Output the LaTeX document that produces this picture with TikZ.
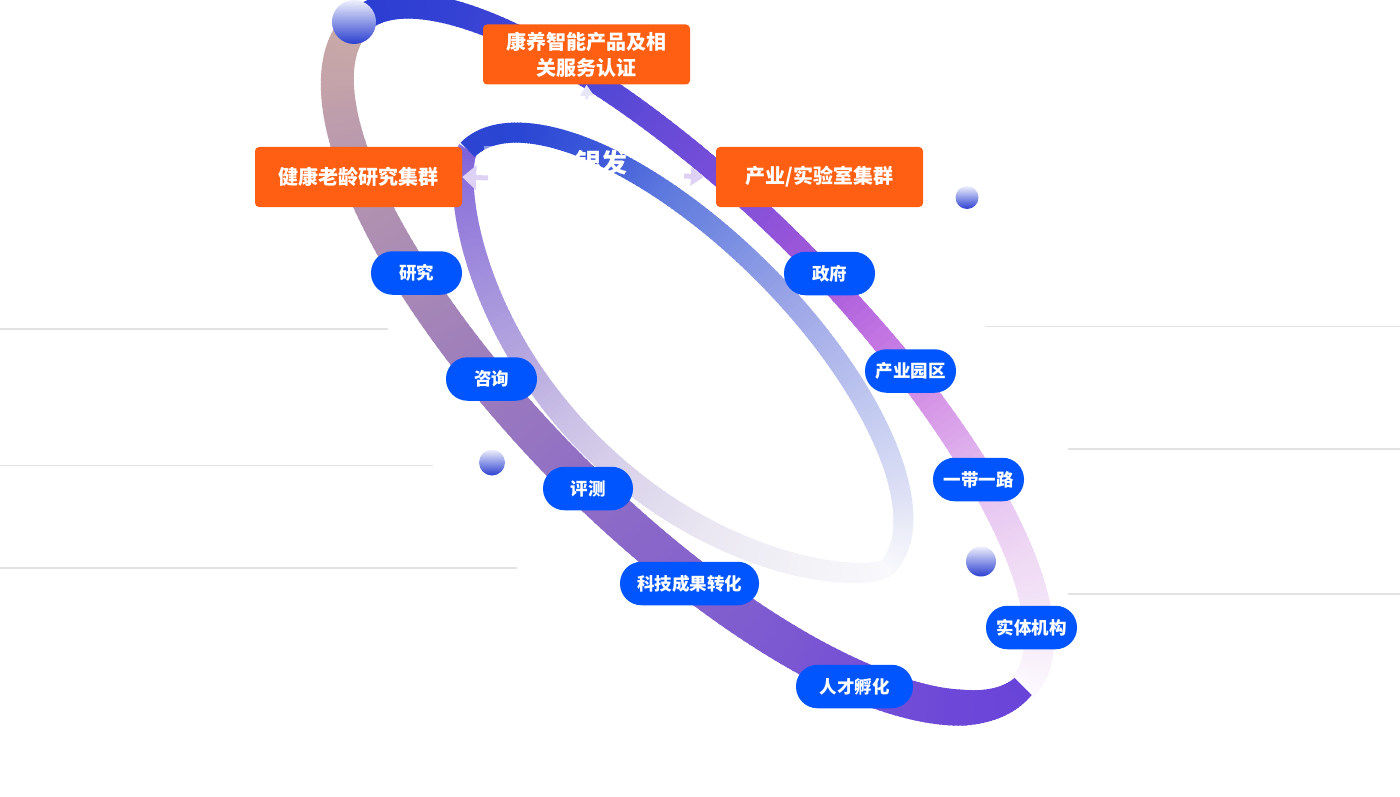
\documentclass[tikz,border=0pt]{standalone}
\usepackage{fontspec}
\newfontfamily\cjk{Noto Sans CJK SC}
\usetikzlibrary{arrows.meta}
% outer ring, upper piece (t = 0 .. 180)
\definecolor{oa0}{HTML}{FDFAFE}
\definecolor{oa1}{HTML}{F7EEFA}
\definecolor{oa2}{HTML}{F0DCF5}
\definecolor{oa3}{HTML}{E6C2F0}
\definecolor{oa4}{HTML}{D493E6}
\definecolor{oa5}{HTML}{C275E2}
\definecolor{oa6}{HTML}{A85ADA}
\definecolor{oa7}{HTML}{7F4FD8}
\definecolor{oa8}{HTML}{5147D6}
\definecolor{oa9}{HTML}{3442D4}
\definecolor{oa10}{HTML}{2A3CD2}
% outer ring, lower piece (t = 180 .. 360)
\definecolor{ob0}{HTML}{CCABA6}
\definecolor{ob1}{HTML}{C4A3AA}
\definecolor{ob2}{HTML}{A98AB4}
\definecolor{ob3}{HTML}{9C7BBE}
\definecolor{ob4}{HTML}{8F6DC6}
\definecolor{ob5}{HTML}{8462CC}
\definecolor{ob6}{HTML}{7550D6}
\definecolor{ob7}{HTML}{6C47D8}
\definecolor{ob8}{HTML}{6944D8}
% inner ring, upper piece
\definecolor{ia0}{HTML}{FAFAFD}
\definecolor{ia1}{HTML}{E8EAF7}
\definecolor{ia2}{HTML}{C2C9F0}
\definecolor{ia3}{HTML}{A0A9E8}
\definecolor{ia4}{HTML}{7C90E2}
\definecolor{ia5}{HTML}{5F7ADE}
\definecolor{ia6}{HTML}{3E5ADA}
\definecolor{ia7}{HTML}{2A46D4}
\definecolor{ia8}{HTML}{2D44D2}
% inner ring, lower piece
\definecolor{ib0}{HTML}{7A5CD8}
\definecolor{ib1}{HTML}{9A84DC}
\definecolor{ib2}{HTML}{B3A4DE}
\definecolor{ib3}{HTML}{C8BDE5}
\definecolor{ib4}{HTML}{DCD5EC}
\definecolor{ib5}{HTML}{EAE7F2}
\definecolor{ib6}{HTML}{F3F2F7}
\definecolor{ib7}{HTML}{FAFAFD}
% others
\definecolor{orangec}{HTML}{FF5F13}
\definecolor{pillblue}{HTML}{0055FE}
\definecolor{linegray}{HTML}{E2E2E2}
\definecolor{sphtop}{HTML}{EEF0FC}
\definecolor{sphbot}{HTML}{2B3FD0}
\definecolor{arrowc}{HTML}{DDD2F5}
\definecolor{arrowk}{HTML}{E6E6F8}

\newcommand{\drawband}[3]{%
  \foreach \ta/\tb/\ca/\cb/\wa/\wb in {#3} {
    \pgfmathtruncatemacro{\nn}{max(1,round(abs(\tb-\ta)))}
    \foreach \s in {1,...,\nn} {
      \pgfmathsetmacro{\tone}{\ta+(\tb-\ta)*(\s-1)/\nn}
      \pgfmathsetmacro{\ttwo}{\ta+(\tb-\ta)*(\s+0.4)/\nn}
      \pgfmathtruncatemacro{\pc}{round(100*(\s-0.5)/\nn)}
      \pgfmathsetmacro{\ww}{\wa+(\wb-\wa)*(\s-0.5)/\nn}
      \draw[line width=\ww pt, color=\cb!\pc!\ca] plot[domain=\tone:\ttwo, samples=3] ({#1(\x)},{#2(\x)});
    }
  }
}

\begin{document}
\begin{tikzpicture}[x=1pt,y=-1pt,
  declare function={
    ov(\t)=sin(\t)*(152*(sin(\t)>0)+167*(sin(\t)<=0));
    ox(\t)=690+0.7071*(470*cos(\t)+ov(\t));
    oy(\t)=355+0.7071*(470*cos(\t)-ov(\t));
    iv(\t)=122*sin(\t)*((sin(\t)>0)+(sin(\t)<=0)*sqrt(abs(sin(\t))));
    ix(\t)=677+0.7071*(296*cos(\t)+iv(\t));
    iy(\t)=359+0.7071*(296*cos(\t)-iv(\t));
  },
  obox/.style={fill=orangec, rounded corners=4pt, text=white, align=center,
    font=\cjk\bfseries\fontsize{20}{26}\selectfont, inner sep=0pt,
    minimum width=207pt, minimum height=60pt},
  pill/.style={fill=pillblue, rounded corners=21.5pt, text=white, inner sep=0pt,
    font=\cjk\bfseries\fontsize{17.5}{20}\selectfont,
    minimum width=91pt, minimum height=43.5pt},
  grayline/.style={draw=linegray, line width=1.4pt},
  sphere/.style={top color=sphtop, bottom color=sphbot},
  arrowtip/.style={draw=arrowc, line width=5pt}
]
\useasboundingbox (0,0) rectangle (1400,797);

% thin gray guide lines
\draw[grayline] (0,329) -- (388,329);
\draw[grayline] (0,465.5) -- (433,465.5);
\draw[grayline] (0,568) -- (517,568);
\draw[grayline] (985,326.5) -- (1400,326.5);
\draw[grayline] (1068,449) -- (1400,449);
\draw[grayline] (1068,594) -- (1400,594);

% outer ring
\drawband{ox}{oy}{0/15/oa0/oa1/30/30, 15/35/oa1/oa2/30/29, 35/50/oa2/oa3/29/28, 50/65/oa3/oa4/28/26, 65/75/oa4/oa5/26/24, 75/85/oa5/oa6/24/22, 85/100/oa6/oa7/22/22, 100/123/oa7/oa8/22/23, 123/150/oa8/oa9/23/25, 150/180/oa9/oa10/25/27}
\drawband{ox}{oy}{180/200/ob0/ob1/30/33, 200/237/ob1/ob2/33/38, 237/255/ob2/ob3/38/39, 255/273/ob3/ob4/39/40, 273/290/ob4/ob5/40/40, 290/318/ob5/ob6/40/40, 318/340/ob6/ob7/40/36, 340/360/ob7/ob8/36/24}

% inner ring
\drawband{ix}{iy}{180/220/ib0/ib1/20/22, 220/246/ib1/ib2/22/23, 246/261/ib2/ib3/23/24, 261/280/ib3/ib4/24/24, 280/299/ib4/ib5/24/23, 299/322/ib5/ib6/23/22, 322/360/ib6/ib7/22/18}
\drawband{ix}{iy}{0/22/ia0/ia1/18/20, 22/55/ia1/ia2/20/21, 55/80/ia2/ia3/21/21, 80/98/ia3/ia4/21/21, 98/115/ia4/ia5/21/21, 115/131/ia5/ia6/21/21, 131/156/ia6/ia7/21/20, 156/180/ia7/ia8/20/20}

% soft white veil at the top-left of the inner ring
\fill[white, fill opacity=0.45] (484,146) rectangle (512,208);

% hidden centre title
\node[text=white, font=\cjk\bfseries\fontsize{26}{30}\selectfont] (title) at (601,163) {银发};

% boxes
\node[obox] (kang) at (586.5,54.5) {康养智能产品及相\\关服务认证};
\node[obox] (health) at (358.5,177) {健康老龄研究集群};
\node[obox] (lab) at (819.5,177) {产业/实验室集群};

% arrows towards the boxes
\coordinate (lsrc) at (488,178);
\coordinate (rsrc) at (684,176);
\coordinate (rtip) at ([xshift=-12pt]lab.west);
\coordinate (ksrc) at (587,99);
\draw[arrowtip, -{Triangle[width=24pt,length=14pt]}] (lsrc) -- (health.east);
\draw[arrowtip, -{Triangle[width=18pt,length=13pt]}] (rsrc) -- (rtip);
\draw[arrowtip, draw=arrowk, line width=3pt, -{Triangle[width=13pt,length=11pt]}] (ksrc) -- (kang.south);

% spheres
\shade[sphere] (354,22) circle (22);
\shade[sphere] (967,197.5) circle (11.5);
\shade[sphere] (492,462.5) circle (13);
\shade[sphere] (981,561.5) circle (15);

% pills
\node[pill] (yanjiu) at (416.5,273) {研究};
\node[pill] (zixun) at (491.5,379) {咨询};
\node[pill, minimum width=90pt] (pingce) at (588,488.5) {评测};
\node[pill, minimum width=139pt] (keji) at (689.5,583.5) {科技成果转化};
\node[pill, minimum width=117pt] (rencai) at (854.5,686.5) {人才孵化};
\node[pill] (zhengfu) at (829.5,273.5) {政府};
\node[pill] (yuanqu) at (910.5,371) {产业园区};
\node[pill] (ydyl) at (978.5,479.5) {一带一路};
\node[pill] (shiti) at (1031.5,627.5) {实体机构};
\end{tikzpicture}
\end{document}
